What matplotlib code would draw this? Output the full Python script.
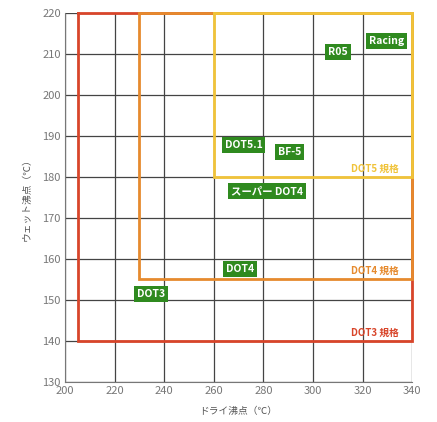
import matplotlib
matplotlib.use("Agg")
import matplotlib.pyplot as plt

plt.rcParams['font.family'] = ['Noto Sans CJK JP', 'DejaVu Sans']

# spec boxes: (name, min dry, min wet, colour)
spec_names = ["DOT3 規格", "DOT4 規格", "DOT5 規格"]
spec_dry = [205, 230, 260]
spec_wet = [140, 155, 180]
spec_colors = ["#d8452a", "#e68a2e", "#f0c33a"]

# products: label, dry, wet
prod_names = ["DOT3", "DOT4", "DOT5.1", "BF-5", "スーパー DOT4", "R05", "Racing"]
prod_dry = [234.5, 270.5, 272, 290.5, 281.5, 310, 329.5]
prod_wet = [151.5, 157.5, 187.8, 186.2, 176.5, 210.5, 213.2]

x_max, y_max = 340, 220

fig = plt.figure(figsize=(4.37, 4.22), dpi=100)
ax = fig.add_axes([0.149, 0.095, 0.794, 0.874])
ax.set_xlim(200, 340)
ax.set_ylim(130, 220)
ax.set_xticks(range(200, 341, 20))
ax.set_yticks(range(130, 221, 10))
ax.grid(True, color="#444444", linewidth=0.9)
ax.set_axisbelow(True)
for s in ["top", "right"]:
    ax.spines[s].set_visible(False)
for s in ["left", "bottom"]:
    ax.spines[s].set_color("#777777")
ax.tick_params(colors="#777777", labelcolor="#777777", labelsize=8, length=0, pad=3)

for name, dx, wy, c in zip(spec_names, spec_dry, spec_wet, spec_colors):
    ax.plot([dx, dx, x_max, x_max], [y_max, wy, wy, y_max], color=c, lw=2, clip_on=False,
            solid_joinstyle="miter")
    ax.plot([dx, x_max], [y_max, y_max], color=c, lw=2, clip_on=False)
    ax.text(x_max - 5.5, wy + 2, name, color=c, fontsize=7, fontweight="bold",
            ha="right", va="center")

for name, dx, wy in zip(prod_names, prod_dry, prod_wet):
    ax.text(dx, wy, name, color="white", fontsize=7.5, fontweight="bold",
            ha="center", va="center",
            bbox=dict(boxstyle="square,pad=0.28", facecolor="#2f8a1f", edgecolor="none"))

ax.set_xlabel("ドライ沸点（℃）", fontsize=7, color="#555555", labelpad=7)
ax.set_ylabel("ウェット沸点（℃）", fontsize=7, color="#555555", labelpad=8)

fig.savefig("out.png", dpi=100)
